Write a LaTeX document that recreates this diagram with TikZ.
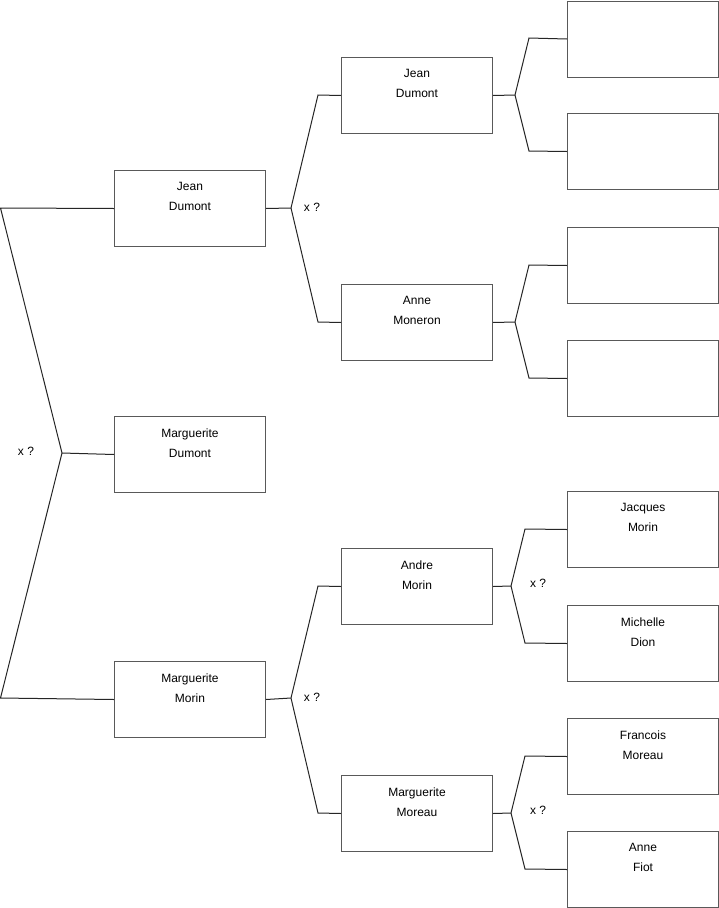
\documentclass[tikz,border=0pt]{standalone}
\usepackage{fontspec}
\setmainfont{Liberation Sans}
\begin{document}
\begin{tikzpicture}[x=1pt,y=-1pt,
  pbox/.style={draw=black!65, line width=1pt, minimum width=151pt, minimum height=76pt, inner sep=0pt, anchor=north west},
  nm/.style={anchor=north, align=center, font=\fontsize{12pt}{20pt}\selectfont, yshift=-9pt},
  conn/.style={draw=black!85, line width=1pt},
  xq/.style={font=\fontsize{12pt}{14pt}\selectfont, inner sep=0pt}]
\useasboundingbox (0,0) rectangle (719,908);
\fill[white] (0,0) rectangle (719,908);
% column 1
\node[pbox,label={[nm]north:Jean\\Dumont}] (a1) at (114,170) {};
\node[pbox,label={[nm]north:Marguerite\\Dumont}] (a2) at (114,416) {};
\node[pbox,label={[nm]north:Marguerite\\Morin}] (a3) at (114,661) {};
% column 2
\node[pbox,label={[nm]north:Jean\\Dumont}] (b1) at (341,57) {};
\node[pbox,label={[nm]north:Anne\\Moneron}] (b2) at (341,284) {};
\node[pbox,label={[nm]north:Andre\\Morin}] (b3) at (341,548) {};
\node[pbox,label={[nm]north:Marguerite\\Moreau}] (b4) at (341,775) {};
% column 3
\node[pbox] (c1) at (567,0.5) {};
\node[pbox] (c2) at (567,113) {};
\node[pbox] (c3) at (567,227) {};
\node[pbox] (c4) at (567,340) {};
\node[pbox,label={[nm]north:Jacques\\Morin}] (c5) at (567,491) {};
\node[pbox,label={[nm]north:Michelle\\Dion}] (c6) at (567,605) {};
\node[pbox,label={[nm]north:Francois\\Moreau}] (c7) at (567,718) {};
\node[pbox,label={[nm]north:Anne\\Fiot}] (c8) at (567,831) {};
% left bracket
\coordinate (l0) at (62,453);
\coordinate (lt) at (0.5,208);
\coordinate (lb) at (0.5,698);
\draw[conn] (a1.west) -- (lt) -- (l0) -- (lb) -- (a3.west);
\draw[conn] (l0) -- (a2.west);
\node[xq] (q0) at (26,451) {x ?};
% fork from a1
\coordinate (f1) at (291,208);
\draw[conn] (a1.east) -- (f1);
\draw[conn] (f1) -- (318,95) -- (b1.west);
\draw[conn] (f1) -- (318,322) -- (b2.west);
\node[xq] (q1) at (312,207) {x ?};
% fork from a3
\coordinate (f2) at (291,698);
\draw[conn] (a3.east) -- (f2);
\draw[conn] (f2) -- (318,586) -- (b3.west);
\draw[conn] (f2) -- (318,813) -- (b4.west);
\node[xq] (q2) at (312,697) {x ?};
% forks from column 2
\coordinate (g1) at (515,95);
\draw[conn] (b1.east) -- (g1);
\draw[conn] (g1) -- (529,38) -- (c1.west);
\draw[conn] (g1) -- (529,151) -- (c2.west);
\coordinate (g2) at (515,322);
\draw[conn] (b2.east) -- (g2);
\draw[conn] (g2) -- (529,265) -- (c3.west);
\draw[conn] (g2) -- (529,378) -- (c4.west);
\coordinate (g3) at (511,586);
\draw[conn] (b3.east) -- (g3);
\draw[conn] (g3) -- (525,529) -- (c5.west);
\draw[conn] (g3) -- (525,643) -- (c6.west);
\node[xq] (q3) at (538,583) {x ?};
\coordinate (g4) at (511,813);
\draw[conn] (b4.east) -- (g4);
\draw[conn] (g4) -- (525,756) -- (c7.west);
\draw[conn] (g4) -- (525,869) -- (c8.west);
\node[xq] (q4) at (538,810) {x ?};
\end{tikzpicture}
\end{document}
